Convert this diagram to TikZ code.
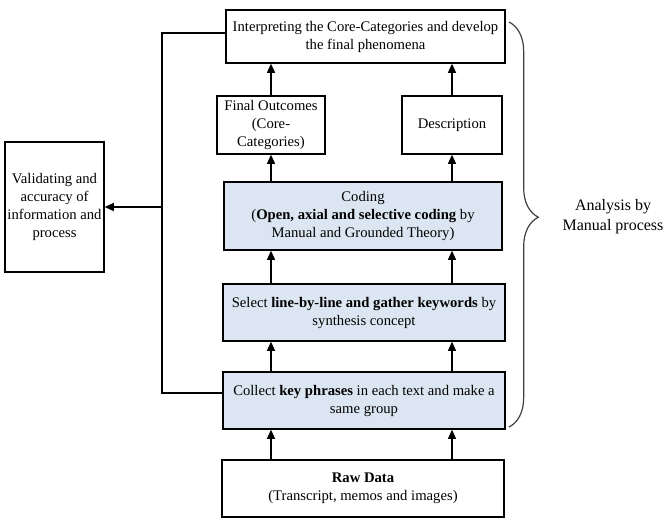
\documentclass[tikz,border=0pt]{standalone}
\usepackage{fontspec}
\setmainfont{Liberation Serif}
\usetikzlibrary{arrows.meta,decorations.pathreplacing}

\definecolor{boxblue}{HTML}{DCE6F2}

\tikzset{
    box/.style={draw, line width=0.9pt, align=center, inner sep=2pt,
        font=\fontsize{11}{13.5}\selectfont},
    bluebox/.style={box, fill=boxblue},
    arr/.style={line width=1.2pt, -{Triangle[length=7pt,width=6pt]}},
    link/.style={line width=0.9pt}
}

\begin{document}
\begin{tikzpicture}[x=0.75pt,y=-0.75pt]
        \useasboundingbox (0,0) rectangle (668,526);

        % Boxes of the main column
        \node[box, minimum width=209.25pt, minimum height=39.75pt] (interp) at (365.5,36.5)
            {Interpreting the Core-Categories and develop\\the final phenomena};
        \node[box, minimum width=81pt, minimum height=43.5pt] (final) at (271,125)
            {Final Outcomes\\(Core-\\Categories)};
        \node[box, minimum width=75pt, minimum height=43.5pt] (desc) at (452,125)
            {Description};
        \node[bluebox, minimum width=208.5pt, minimum height=51pt] (coding) at (363,216)
            {Coding\\(\textbf{Open, axial and selective coding} by\\Manual and Grounded Theory)};
        \node[bluebox, minimum width=211.5pt, minimum height=42.75pt] (select) at (364,312.5)
            {Select \textbf{line-by-line and gather keywords} by\\synthesis concept};
        \node[bluebox, minimum width=211.5pt, minimum height=42.75pt] (collect) at (364,400.5)
            {Collect \textbf{key phrases} in each text and make a\\same group};
        \node[box, minimum width=211.5pt, minimum height=42.75pt] (raw) at (363,488.5)
            {\textbf{Raw Data}\\(Transcript, memos and images)};

        % Side box
        \node[box, minimum width=74.25pt, minimum height=97.5pt, inner sep=1pt] (valid) at (54.5,207)
            {Validating and\\accuracy of\\information and\\process};

        % Arrows upwards
        \draw[arr] (raw.north -| final) -- (collect.south -| final);
        \draw[arr] (raw.north -| desc) -- (collect.south -| desc);
        \draw[arr] (collect.north -| final) -- (select.south -| final);
        \draw[arr] (collect.north -| desc) -- (select.south -| desc);
        \draw[arr] (select.north -| final) -- (coding.south -| final);
        \draw[arr] (select.north -| desc) -- (coding.south -| desc);
        \draw[arr] (coding.north -| final) -- (final.south);
        \draw[arr] (coding.north -| desc) -- (desc.south);
        \draw[arr] (final.north) -- (interp.south -| final);
        \draw[arr] (desc.north) -- (interp.south -| desc);

        % Feedback to validation
        \coordinate (fb) at (162,207);
        \draw[link] ([yshift=2.6pt]interp.west) -| (fb) |- ([yshift=5.6pt]collect.west);
        \draw[arr] (fb) -- (valid.east);

        % Brace
        \draw[line width=0.9pt, black!75, decorate,
            decoration={brace, amplitude=22pt, aspect=0.482}] (509,22) -- (509,427);
        \node[align=center, font=\fontsize{12}{15}\selectfont] (analysis) at (613,217)
            {Analysis by\\Manual process};
    \end{tikzpicture}
\end{document}
